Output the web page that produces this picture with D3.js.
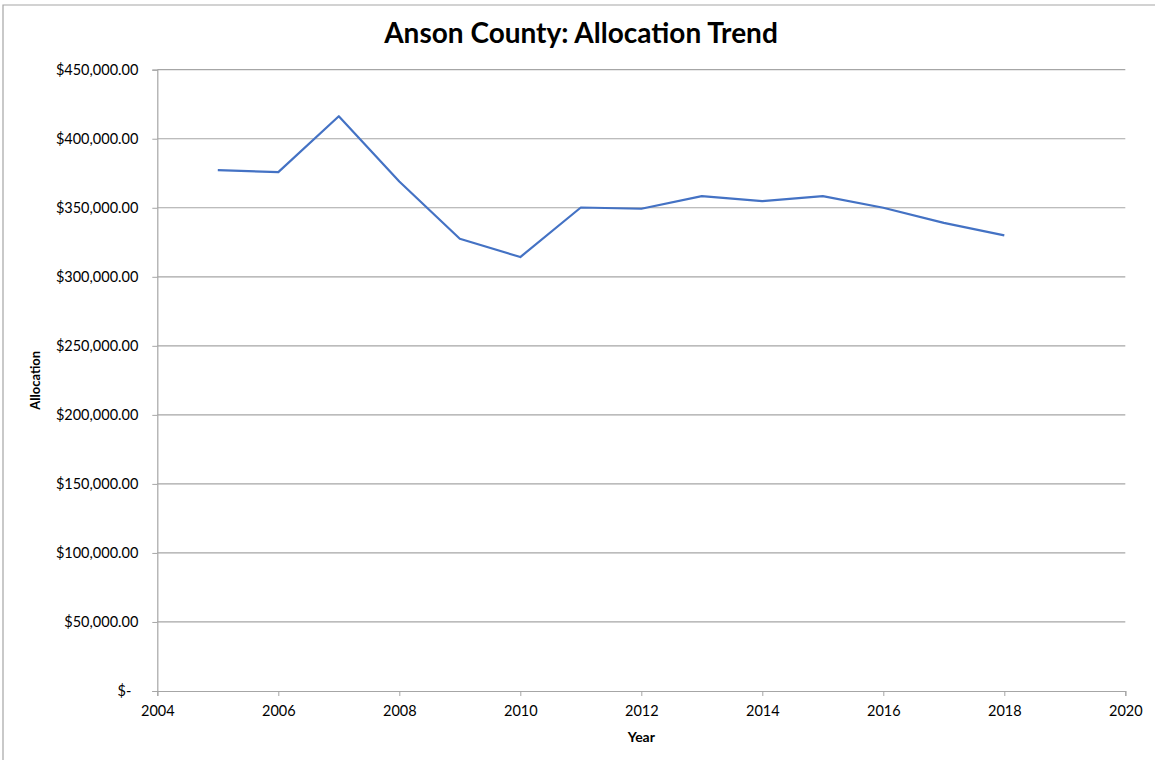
<!DOCTYPE html>
<html><head><meta charset="utf-8">
<script src="https://cdn.jsdelivr.net/npm/d3@7"></script>
<style>body{margin:0;background:#fff}svg{display:block}text{font-family:Lato,"Open Sans",sans-serif}</style>
</head><body>
<svg id="c" width="1155" height="760"></svg>
<script>
const years = [2005,2006,2007,2008,2009,2010,2011,2012,2013,2014,2015,2016,2017,2018];
const allocation = [377200,375800,416300,369000,327600,314300,350200,349300,358400,354800,358400,350000,339100,330000];
const xTicks = [2004,2006,2008,2010,2012,2014,2016,2018,2020];
const yTicks = [0,50000,100000,150000,200000,250000,300000,350000,400000,450000];

const svg = d3.select("#c");
const m = {l:157.3, r:1125.3, t:69.7, b:691};
const x = d3.scaleLinear().domain([2004,2020]).range([m.l,m.r]);
const y = d3.scaleLinear().domain([0,450000]).range([m.b,m.t]);

// outer chart border (left and top)
svg.append("path").attr("d","M3,760V5H1155").attr("fill","none").attr("stroke","#a6a6a6").attr("stroke-width",1.2);

// gridlines
svg.append("g").selectAll("line").data(yTicks.filter(d=>d>0)).join("line")
  .attr("x1",m.l).attr("x2",m.r).attr("y1",d=>y(d)).attr("y2",d=>y(d))
  .attr("stroke","#a6a6a6").attr("stroke-width",1.2);

const fmt = d => d===0 ? "$-" : "$" + d3.format(",.2f")(d);
const yAxis = svg.append("g").attr("transform",`translate(${m.l},0)`)
  .call(d3.axisLeft(y).tickValues(yTicks).tickSize(5).tickPadding(14).tickFormat(fmt));
yAxis.select(".domain").attr("stroke","#a6a6a6").attr("stroke-width",1.2);
yAxis.selectAll(".tick line").attr("stroke","#a6a6a6");
yAxis.selectAll(".tick text").attr("font-size",14.5).attr("fill","#000")
  .attr("dx",d=>d===0?-7:0);

const xAxis = svg.append("g").attr("transform",`translate(0,${m.b})`)
  .call(d3.axisBottom(x).tickValues(xTicks).tickSize(5).tickPadding(10).tickFormat(d3.format("d")));
xAxis.select(".domain").attr("stroke","#a6a6a6").attr("stroke-width",1.2);
xAxis.selectAll(".tick line").attr("stroke","#a6a6a6");
xAxis.selectAll(".tick text").attr("font-size",14.5).attr("fill","#000");

// line
svg.append("path").datum(years.map((d,i)=>[d,allocation[i]]))
  .attr("fill","none").attr("stroke","#4472c4").attr("stroke-width",2.2).attr("stroke-linejoin","round")
  .attr("d", d3.line().x(d=>x(d[0])).y(d=>y(d[1])));

// title
svg.append("text").attr("x",581).attr("y",43).attr("text-anchor","middle")
  .attr("font-size",28).attr("font-weight","bold").attr("fill","#000").text("Anson County: Allocation Trend");
svg.append("text").attr("x",(m.l+m.r)/2).attr("y",742).attr("text-anchor","middle")
  .attr("font-size",14).attr("font-weight","bold").attr("fill","#000").text("Year");
svg.append("text").attr("transform",`translate(40,${(m.t+m.b)/2}) rotate(-90)`).attr("text-anchor","middle")
  .attr("font-size",13).attr("font-weight","bold").attr("fill","#000").text("Allocation");
</script>
</body></html>
